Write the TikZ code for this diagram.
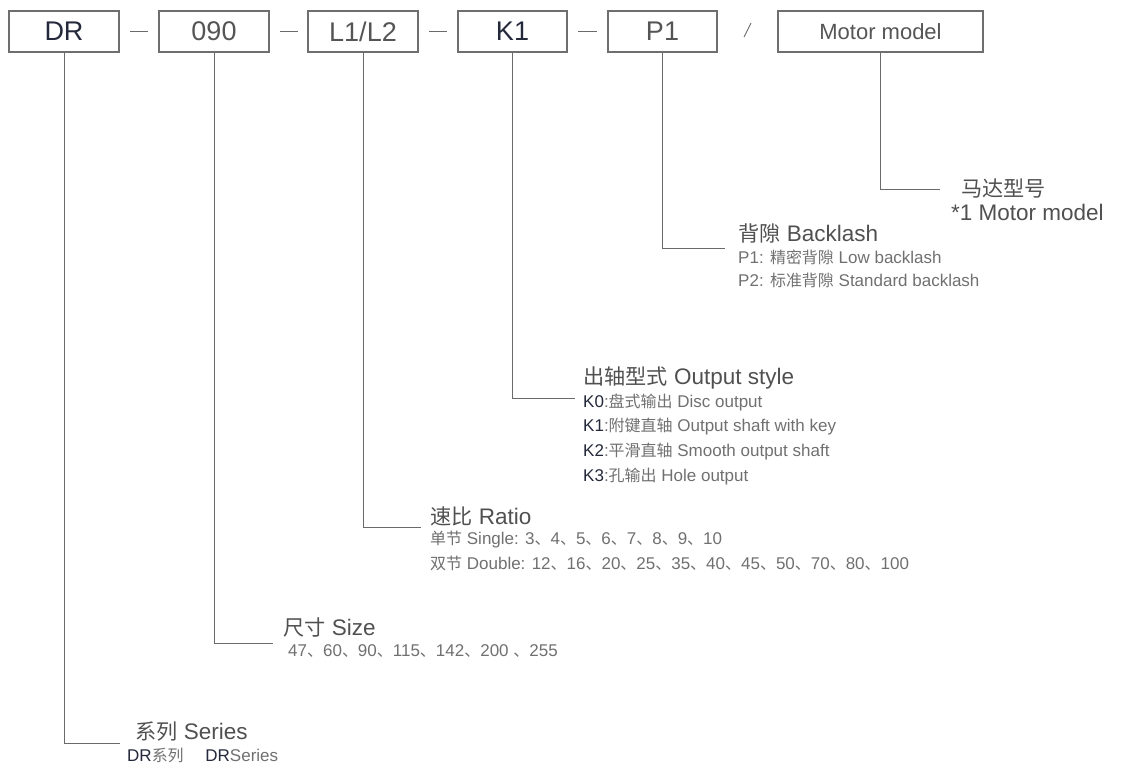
\documentclass[tikz,border=0pt]{standalone}
\usepackage{fontspec}
\setmainfont{Liberation Sans}
\newfontfamily\cjkfont[Scale=0.94]{Noto Sans CJK SC}
\newcommand\zh[1]{{\cjkfont #1}}
\newcommand\dun{{\cjkfont 、}}
\definecolor{boxline}{HTML}{6E6E6E}
\definecolor{conline}{HTML}{6A6A6A}
\definecolor{maintxt}{HTML}{505050}
\definecolor{subtxt}{HTML}{707070}
\definecolor{darktxt}{HTML}{23283A}
\definecolor{boxtxt}{HTML}{555555}
\tikzset{
  codebox/.style={draw=boxline, line width=1.1pt, minimum height=41, inner sep=0pt, text=boxtxt, font=\fontsize{27}{30}\selectfont},
  conn/.style={draw=conline, line width=1pt},
  sep/.style={draw=conline, line width=0.9pt},
  mainlbl/.style={anchor=west, inner sep=0pt, text=maintxt, font=\fontsize{22.5}{26}\selectfont},
  sublbl/.style={anchor=west, inner sep=0pt, text=subtxt, font=\fontsize{17}{20}\selectfont},
}
\begin{document}
\begin{tikzpicture}[x=1pt,y=-1pt]
\useasboundingbox (0,0) rectangle (1121,765);
% code boxes
\node[codebox, minimum width=110, text=darktxt] (dr) at (64,31.5) {DR};
\node[codebox, minimum width=110] (size) at (214,31.5) {090};
\node[codebox, minimum width=110] (ratio) at (363,31.5) {L1/L2};
\node[codebox, minimum width=109, text=darktxt] (out) at (512.5,31.5) {K1};
\node[codebox, minimum width=109] (back) at (662.5,31.5) {P1};
\node[codebox, minimum width=205, font=\fontsize{22}{26}\selectfont] (motor) at (880.5,31.5) {Motor model};
% separators
\coordinate (s1a) at (130,31); \coordinate (s1b) at (148,31);
\coordinate (s2a) at (280,31); \coordinate (s2b) at (298,31);
\coordinate (s3a) at (429,31); \coordinate (s3b) at (447,31);
\coordinate (s4a) at (578,31); \coordinate (s4b) at (597,31);
\coordinate (sla) at (744,37); \coordinate (slb) at (751,23);
\draw[sep] (s1a) -- (s1b);
\draw[sep] (s2a) -- (s2b);
\draw[sep] (s3a) -- (s3b);
\draw[sep] (s4a) -- (s4b);
\draw[sep] (sla) -- (slb);
% connector ends
\coordinate (e1) at (120,743);
\coordinate (e2) at (273,643);
\coordinate (e3) at (421,527);
\coordinate (e4) at (575,398);
\coordinate (e5) at (725,248);
\coordinate (e6) at (940,189);
\draw[conn] (dr.south) |- (e1);
\draw[conn] (size.south) |- (e2);
\draw[conn] (ratio.south) |- (e3);
\draw[conn] (out.south) |- (e4);
\draw[conn] (back.south) |- (e5);
\draw[conn] (motor.south) |- (e6);
% motor
\node[mainlbl] (m1) at (961,188) {\zh{马达型号}};
\node[mainlbl] (m2) at (951,212) {*1 Motor model};
% backlash
\node[mainlbl] (b0) at (738,233) {\zh{背隙} Backlash};
\node[sublbl] (b1) at (738,257) {P1: \zh{精密背隙} Low backlash};
\node[sublbl] (b2) at (738,280) {P2: \zh{标准背隙} Standard backlash};
% output
\node[mainlbl] (o0) at (583,378) {\zh{出轴型式} Output style};
\node[sublbl] (o1) at (583,402) {\textcolor{darktxt}{K0}:\zh{盘式输出} Disc output};
\node[sublbl] (o2) at (583,427) {\textcolor{darktxt}{K1}:\zh{附键直轴} Output shaft with key};
\node[sublbl] (o3) at (583,452) {\textcolor{darktxt}{K2}:\zh{平滑直轴} Smooth output shaft};
\node[sublbl] (o4) at (583,477) {\textcolor{darktxt}{K3}:\zh{孔输出} Hole output};
% ratio
\node[mainlbl] (r0) at (430,516) {\zh{速比} Ratio};
\node[sublbl] (r1) at (430,540) {\zh{单节} Single: 3\dun 4\dun 5\dun 6\dun 7\dun 8\dun 9\dun 10};
\node[sublbl] (r2) at (430,563) {\zh{双节} Double: 12\dun 16\dun 20\dun 25\dun 35\dun 40\dun 45\dun 50\dun 70\dun 80\dun 100};
% size
\node[mainlbl] (z0) at (283,627) {\zh{尺寸} Size};
\node[sublbl] (z1) at (288,651) {47\dun 60\dun 90\dun 115\dun 142\dun 200 \dun 255};
% series
\node[mainlbl] (q0) at (135,732) {\zh{系列} Series};
\node[sublbl] (q1) at (127,755) {\textcolor{darktxt}{DR}\zh{系列}\quad\ \textcolor{darktxt}{DR}Series};
\end{tikzpicture}
\end{document}
